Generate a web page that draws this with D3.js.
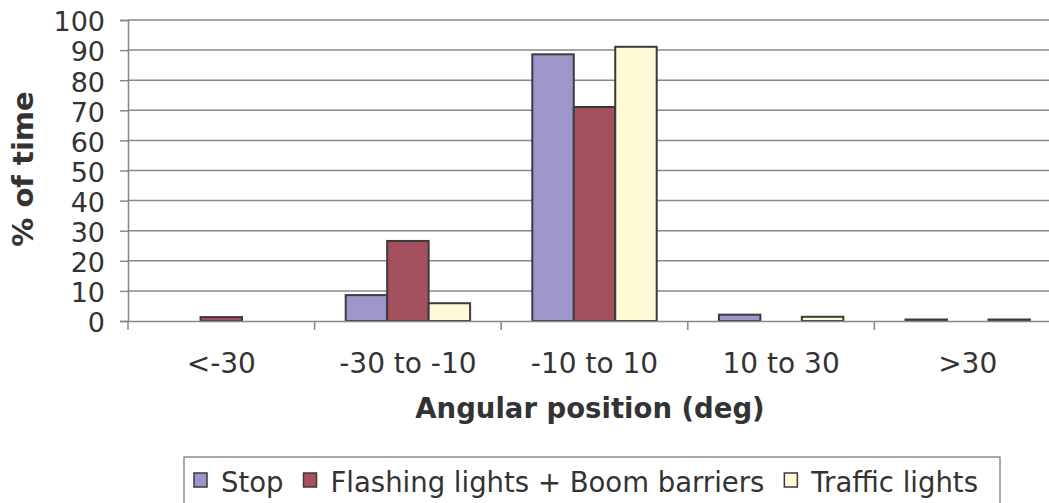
<!DOCTYPE html>
<html>
<head>
<meta charset="utf-8">
<script src="https://cdn.jsdelivr.net/npm/d3@7"></script>
<style>
  body { margin: 0; background: #fff; }
  text { fill: #333; }
</style>
</head>
<body>
<svg id="chart" width="1049" height="503"></svg>
<script>
const categories = ['<-30', '-30 to -10', '-10 to 10', '10 to 30', '>30'];
const seriesNames = ['Stop', 'Flashing lights + Boom barriers', 'Traffic lights'];
const stopVals = [0, 8.6, 88.6, 2.1, 0.5];
const flashVals = [1.3, 26.6, 71.1, 0, 0];
const trafficVals = [0, 5.9, 91.1, 1.4, 0.5];
const yTicks = [0, 10, 20, 30, 40, 50, 60, 70, 80, 90, 100];

const colors = ['#9c97c8', '#a5505e', '#fff9d6'];
const series = [stopVals, flashVals, trafficVals];

const plotLeft = 128, plotRight = 1061, plotTop = 20, plotBottom = 321;

const svg = d3.select('#chart');

const x = d3.scaleBand().domain(categories).range([plotLeft, plotRight]).paddingInner(0).paddingOuter(0);
const xSub = d3.scaleBand().domain(d3.range(3)).range([0, x.bandwidth()]).paddingOuter(0.75).paddingInner(0);
const y = d3.scaleLinear().domain([0, 100]).range([plotBottom, plotTop]);

// gridlines
svg.append('g')
  .selectAll('line')
  .data(yTicks.slice(1))
  .enter()
  .append('line')
  .attr('x1', plotLeft).attr('x2', plotRight)
  .attr('y1', d => y(d)).attr('y2', d => y(d))
  .attr('stroke', '#888').attr('stroke-width', 1.5);

// y axis
const yAxis = d3.axisLeft(y).tickValues(yTicks).tickSize(8).tickPadding(15);
const gy = svg.append('g')
  .attr('transform', 'translate(' + plotLeft + ',0)')
  .call(yAxis);
gy.select('.domain').attr('stroke', '#888').attr('stroke-width', 1.5);
gy.selectAll('.tick line').attr('stroke', '#888').attr('stroke-width', 1.5);
gy.selectAll('.tick text')
  .attr('font-family', 'DejaVu Sans').attr('font-size', 27).attr('fill', '#333')
  .attr('dy', '0.4em');

// bars
series.forEach((vals, i) => {
  svg.append('g')
    .selectAll('rect')
    .data(vals)
    .enter()
    .append('rect')
    .attr('x', (d, j) => x(categories[j]) + xSub(i))
    .attr('y', d => y(d))
    .attr('width', xSub.bandwidth())
    .attr('height', d => plotBottom - y(d))
    .attr('fill', colors[i])
    .attr('stroke', d => d > 0 ? '#3a3a40' : 'none')
    .attr('stroke-width', 2);
});

// x axis
const xAxis = d3.axisBottom(x).tickSize(0).tickPadding(32);
const gx = svg.append('g')
  .attr('transform', 'translate(0,' + plotBottom + ')')
  .call(xAxis);
gx.select('.domain').attr('stroke', '#888').attr('stroke-width', 1.5);
gx.selectAll('.tick text')
  .attr('font-family', 'DejaVu Sans').attr('font-size', 28).attr('fill', '#333');
// tick marks at category boundaries
gx.append('g')
  .selectAll('line')
  .data(categories)
  .enter()
  .append('line')
  .attr('x1', d => x(d)).attr('x2', d => x(d))
  .attr('y1', 0).attr('y2', 9)
  .attr('stroke', '#888').attr('stroke-width', 1.5);

// axis titles
svg.append('text')
  .attr('x', 590).attr('y', 418)
  .attr('text-anchor', 'middle')
  .attr('font-family', 'DejaVu Sans').attr('font-weight', 'bold').attr('font-size', 27.5)
  .text('Angular position (deg)');

svg.append('text')
  .attr('transform', 'translate(33,169) rotate(-90)')
  .attr('text-anchor', 'middle')
  .attr('font-family', 'DejaVu Sans').attr('font-weight', 'bold').attr('font-size', 29)
  .text('% of time');

// legend
const legend = svg.append('g').attr('id', 'legend');
legend.append('rect')
  .attr('x', 184).attr('y', 457).attr('width', 816).attr('height', 60)
  .attr('fill', 'none').attr('stroke', '#555').attr('stroke-width', 1);

let lx = 194;
seriesNames.forEach((name, i) => {
  legend.append('rect')
    .attr('x', lx).attr('y', 473).attr('width', 13).attr('height', 14)
    .attr('fill', colors[i]).attr('stroke', '#3a3a40').attr('stroke-width', 1.5);
  const t = legend.append('text')
    .attr('x', lx + 27).attr('y', 492)
    .attr('font-family', 'DejaVu Sans').attr('font-size', 27.5)
    .text(name);
  lx = lx + 27 + t.node().getComputedTextLength() + 20;
});
</script>
</body>
</html>
